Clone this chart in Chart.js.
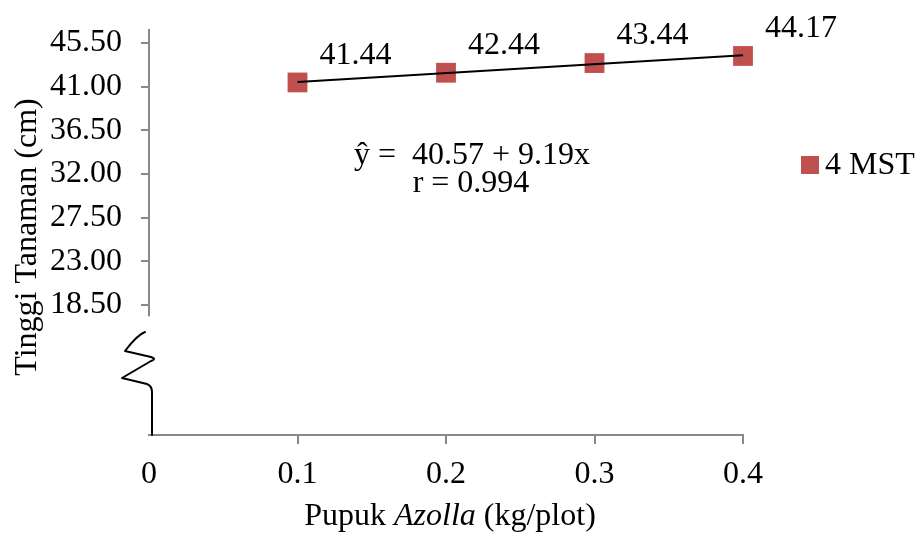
<!DOCTYPE html>
<html>
<head>
<meta charset="utf-8">
<title>Tinggi Tanaman 4 MST</title>
<script src="https://cdn.jsdelivr.net/npm/chart.js@4.4.1/dist/chart.umd.min.js"></script>
<style>
  html, body { margin: 0; padding: 0; background: #ffffff; }
  #wrap { width: 917px; height: 534px; }
</style>
</head>
<body>
<div id="wrap"><canvas id="chart" width="917" height="534"></canvas></div>
<script>
// data
const xValues = [0.1, 0.2, 0.3, 0.4];
const yValues = [41.44, 42.44, 43.44, 44.17];
const xTicks = [0, 0.1, 0.2, 0.3, 0.4];
const yTicks = [18.5, 23.0, 27.5, 32.0, 36.5, 41.0, 45.5];
const seriesName = '4 MST';

// regression shown on the figure
const intercept = 40.57;
const slope = 9.19;
const rValue = 0.994;

// axis range (y axis is broken below 18.50)
const yMin = 5.1;
const yMax = 46.95;
const yBreakAt = 17.35;

const FONT = "'Liberation Serif', 'Times New Roman', serif";
const RED = '#C0504D';
const AXIS_GREY = '#888888';

const trendX = [xValues[0], xValues[xValues.length - 1]];
const trendPoints = trendX.map(x => ({ x: x, y: intercept + slope * x }));

// extra drawing: broken axis, labels, equation, legend, titles
const decorations = {
  id: 'decorations',
  afterDraw(chart) {
    const ctx = chart.ctx;
    const area = chart.chartArea;
    const yScale = chart.scales.y;
    const L = area.left;
    const B = area.bottom;

    ctx.save();

    // upper part of y axis
    ctx.strokeStyle = AXIS_GREY;
    ctx.lineWidth = 2;
    ctx.beginPath();
    ctx.moveTo(L, area.top);
    ctx.lineTo(L, yScale.getPixelForValue(yBreakAt));
    ctx.stroke();

    // break squiggle down to the x axis
    ctx.strokeStyle = '#000000';
    ctx.lineWidth = 2;
    ctx.lineJoin = 'round';
    ctx.lineCap = 'round';
    ctx.beginPath();
    ctx.moveTo(L - 4, B - 103);
    ctx.quadraticCurveTo(L - 12, B - 100, L - 24, B - 84);
    ctx.lineTo(L + 2, B - 78);
    ctx.quadraticCurveTo(L + 8, B - 76, L + 2, B - 74);
    ctx.lineTo(L - 27, B - 57);
    ctx.lineTo(L - 2, B - 51);
    ctx.quadraticCurveTo(L + 3, B - 49, L + 3, B - 43);
    ctx.lineTo(L + 3, B);
    ctx.stroke();

    // data labels
    ctx.fillStyle = '#000000';
    ctx.font = '32px ' + FONT;
    ctx.textAlign = 'center';
    ctx.textBaseline = 'middle';
    const meta = chart.getDatasetMeta(1);
    meta.data.forEach((pt, i) => {
      ctx.fillText(yValues[i].toFixed(2), pt.x + 58, pt.y - 27);
    });

    // regression equation
    ctx.fillText('ŷ =  ' + intercept.toFixed(2) + ' + ' + slope.toFixed(2) + 'x', L + 323, 156);
    ctx.fillText('r = ' + rValue.toFixed(3), L + 322, 184);

    // legend
    ctx.fillStyle = RED;
    ctx.fillRect(area.right + 58, 156, 18, 18);
    ctx.fillStyle = '#000000';
    ctx.textAlign = 'left';
    ctx.fillText(seriesName, area.right + 82, 166);

    // y title
    ctx.save();
    ctx.translate(28, 237);
    ctx.rotate(-Math.PI / 2);
    ctx.textAlign = 'center';
    ctx.fillText('Tinggi Tanaman (cm)', 0, 0);
    ctx.restore();

    // x title with italic Azolla
    const parts = [
      { t: 'Pupuk ', f: '32px ' + FONT },
      { t: 'Azolla', f: 'italic 32px ' + FONT },
      { t: ' (kg/plot)', f: '32px ' + FONT }
    ];
    let total = 0;
    parts.forEach(p => { ctx.font = p.f; p.w = ctx.measureText(p.t).width; total += p.w; });
    let xx = (area.left + area.right) / 2 - total / 2 + 4;
    ctx.textAlign = 'left';
    parts.forEach(p => {
      ctx.font = p.f;
      ctx.fillText(p.t, xx, 517);
      xx += p.w;
    });

    ctx.restore();
  }
};

new Chart(document.getElementById('chart'), {
  type: 'scatter',
  data: {
    datasets: [
      {
        type: 'line',
        label: 'trend',
        data: trendPoints,
        borderColor: '#000000',
        borderWidth: 2,
        pointRadius: 0,
        fill: false,
        tension: 0,
        clip: false
      },
      {
        label: seriesName,
        data: xValues.map((x, i) => ({ x: x, y: yValues[i] })),
        pointStyle: 'rect',
        pointRadius: 14,
        pointHoverRadius: 14,
        backgroundColor: RED,
        borderColor: RED,
        borderWidth: 0,
        clip: false
      }
    ]
  },
  options: {
    responsive: false,
    animation: false,
    devicePixelRatio: 1,
    layout: { padding: { top: 29, right: 174, left: 0, bottom: 0 } },
    plugins: {
      legend: { display: false },
      tooltip: { enabled: false }
    },
    scales: {
      x: {
        type: 'linear',
        min: 0,
        max: 0.4,
        afterBuildTicks: scale => { scale.ticks = xTicks.map(v => ({ value: v })); },
        afterFit: scale => {
          scale.height = 99;
          scale.paddingLeft = 0;
          scale.paddingRight = 0;
        },
        ticks: {
          font: { family: FONT, size: 32 },
          color: '#000000',
          padding: 11,
          maxRotation: 0,
          autoSkip: false,
          callback: v => (v === 0 ? '0' : v.toFixed(1))
        },
        grid: {
          drawOnChartArea: false,
          drawTicks: true,
          tickLength: 9,
          lineWidth: 2,
          color: c => (c.tick && c.tick.value === 0 ? 'rgba(0,0,0,0)' : AXIS_GREY)
        },
        border: { display: true, color: AXIS_GREY, width: 2 }
      },
      y: {
        min: yMin,
        max: yMax,
        afterBuildTicks: scale => { scale.ticks = yTicks.map(v => ({ value: v })); },
        afterFit: scale => {
          scale.width = 149;
          scale.paddingTop = 0;
          scale.paddingBottom = 0;
        },
        ticks: {
          font: { family: FONT, size: 32 },
          color: '#000000',
          padding: 19,
          autoSkip: false,
          callback: v => v.toFixed(2)
        },
        grid: {
          drawOnChartArea: false,
          drawTicks: true,
          tickLength: 8,
          lineWidth: 2,
          color: AXIS_GREY
        },
        border: { display: false }
      }
    }
  },
  plugins: [decorations]
});
</script>
</body>
</html>
